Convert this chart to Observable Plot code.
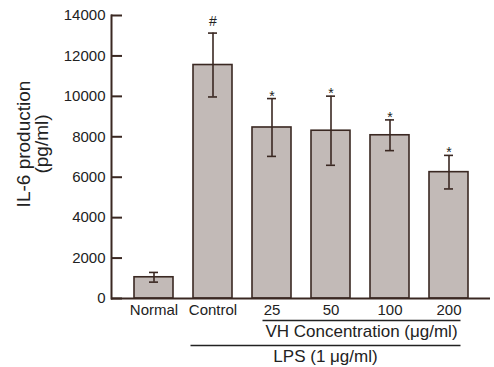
<!DOCTYPE html>
<html>
<head>
<meta charset="utf-8">
<script src="https://cdn.jsdelivr.net/npm/d3@7"></script>
<script src="https://cdn.jsdelivr.net/npm/@observablehq/plot@0.6"></script>
<style>
  html, body { margin: 0; padding: 0; background: #fff; }
  #chart { width: 494px; height: 367px; }
</style>
</head>
<body>
<div id="chart"></div>
<script>
const groups = ["Normal", "Control", "25", "50", "100", "200"];
const means  = [1050, 11550, 8460, 8300, 8075, 6250];
const errors = [240, 1580, 1430, 1710, 760, 830];
const marks  = ["", "#", "*", "*", "*", "*"];
const yTicks = [0, 2000, 4000, 6000, 8000, 10000, 12000, 14000];

const data = groups.map((g, i) => ({ group: g, mean: means[i], err: errors[i], mark: marks[i] }));

const ink = "#3a2822";
const font = "'Liberation Sans', Arial, sans-serif";

const chart = Plot.plot({
  width: 494,
  height: 367,
  marginLeft: 111,
  marginRight: 4,
  marginTop: 15,
  marginBottom: 69,
  style: { fontFamily: font, fontSize: "15px", color: "#222", background: "#fff" },
  x: { domain: groups, padding: 0.345, label: null },
  y: { domain: [0, 14000], label: null },
  marks: [
    Plot.barY(data, { x: "group", y: "mean", fill: "#c2bab7", stroke: ink, strokeWidth: 1.6 }),
    Plot.ruleX(data, { x: "group", y1: d => d.mean - d.err, y2: d => d.mean + d.err, stroke: ink, strokeWidth: 1.6 }),
    Plot.tickY(data, { x: "group", y: d => d.mean + d.err, stroke: ink, strokeWidth: 1.6, insetLeft: 15, insetRight: 15 }),
    Plot.tickY(data, { x: "group", y: d => d.mean - d.err, stroke: ink, strokeWidth: 1.6, insetLeft: 15, insetRight: 15 }),
    Plot.text(data.filter(d => d.mark === "#"), { x: "group", y: d => d.mean + d.err, text: "mark", lineAnchor: "bottom", dy: -7, fontSize: 14, fill: "#222" }),
    Plot.text(data.filter(d => d.mark === "*"), { x: "group", y: d => d.mean + d.err, text: "mark", lineAnchor: "bottom", dy: 2, fontSize: 14, fill: "#222" }),
    Plot.axisY({ ticks: yTicks, tickSize: -11, tickPadding: 17, tickFormat: d => String(d), stroke: ink, strokeWidth: 2, label: null }),
    Plot.axisX({ tickSize: 0, tickPadding: 6, label: null }),
    Plot.ruleY([0], { stroke: ink, strokeWidth: 2 }),
    Plot.frame({ anchor: "left", stroke: ink, strokeWidth: 2 }),
    Plot.text(["IL-6 production\n(pg/ml)"], { frameAnchor: "left", rotate: -90, dx: -78, dy: -13, fontSize: 19, lineHeight: 0.95, textAnchor: "middle", lineAnchor: "middle", fill: "#222" })
  ]
});

document.getElementById("chart").appendChild(chart);

// Group annotations below the x axis, positioned with Plot's x scale
const xs = chart.scale("x");
const bw = xs.bandwidth;
const cx = g => xs.apply(g) + bw / 2;
const svg = d3.select(chart);
const g = svg.append("g").attr("font-family", font).attr("fill", "#222");

const line1Start = cx("25") - 9, lineEnd = cx("200") + 12;
const line2Start = cx("Control") - 22;

g.append("line").attr("x1", line1Start).attr("x2", lineEnd).attr("y1", 320.5).attr("y2", 320.5)
  .attr("stroke", "#222").attr("stroke-width", 1.5);
g.append("text").attr("x", (line1Start + lineEnd) / 2).attr("y", 337).attr("text-anchor", "middle")
  .attr("font-size", 17).text("VH Concentration (μg/ml)");
g.append("line").attr("x1", line2Start).attr("x2", lineEnd).attr("y1", 345.5).attr("y2", 345.5)
  .attr("stroke", "#222").attr("stroke-width", 1.5);
g.append("text").attr("x", (line2Start + lineEnd) / 2).attr("y", 361.5).attr("text-anchor", "middle")
  .attr("font-size", 17).text("LPS (1 μg/ml)");
</script>
</body>
</html>
